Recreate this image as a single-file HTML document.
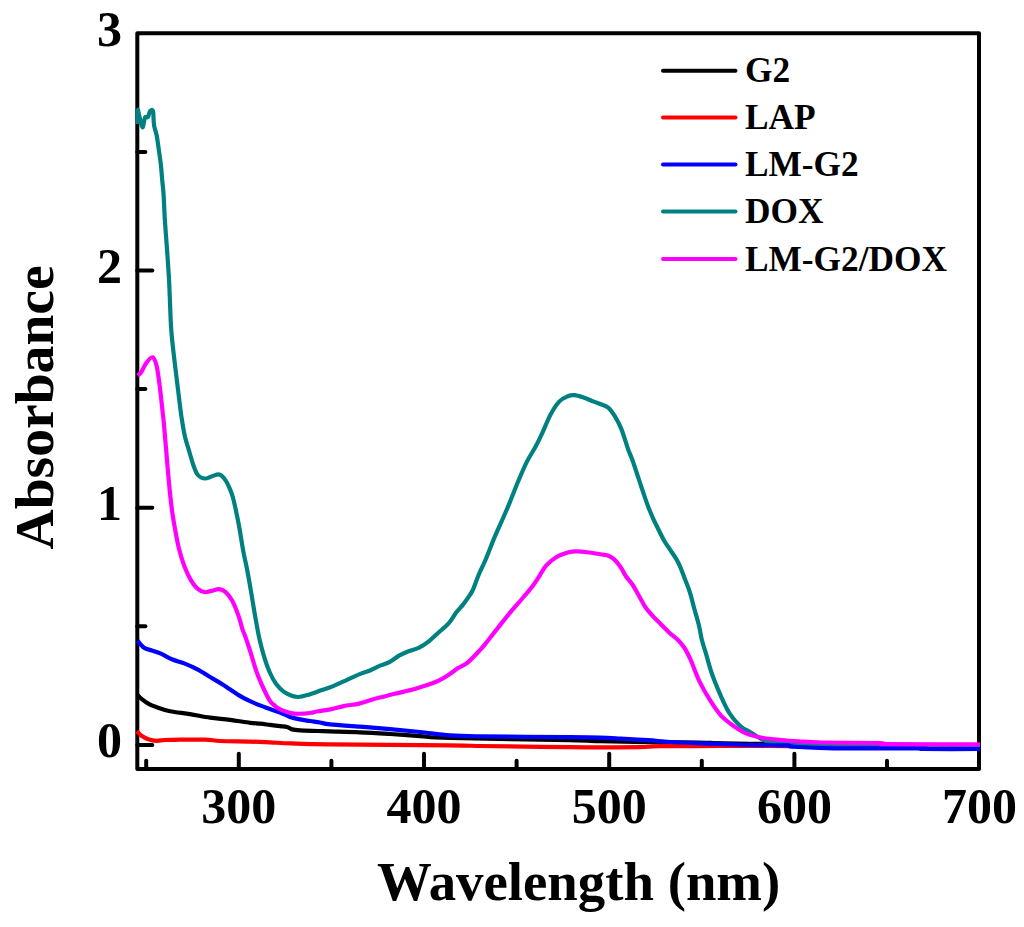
<!DOCTYPE html>
<html><head><meta charset="utf-8"><style>
html,body{margin:0;padding:0;background:#fff;}
body{width:1024px;height:927px;overflow:hidden;}
svg{display:block;}
text{font-family:"Liberation Serif",serif;font-weight:bold;fill:#000;}
</style></head><body>
<svg width="1024" height="927" viewBox="0 0 1024 927">
<rect x="0" y="0" width="1024" height="927" fill="#fff"/>
<g stroke="#000" stroke-width="4" stroke-linecap="round" fill="none">
<rect x="137.3" y="33.3" width="841.7" height="735.7" stroke-linejoin="round"/>
<line x1="146.2" y1="769.0" x2="146.2" y2="760.7"/><line x1="238.8" y1="769.0" x2="238.8" y2="753.7"/><line x1="331.4" y1="769.0" x2="331.4" y2="760.7"/><line x1="424.0" y1="769.0" x2="424.0" y2="753.7"/><line x1="516.6" y1="769.0" x2="516.6" y2="760.7"/><line x1="609.2" y1="769.0" x2="609.2" y2="753.7"/><line x1="701.8" y1="769.0" x2="701.8" y2="760.7"/><line x1="794.4" y1="769.0" x2="794.4" y2="753.7"/><line x1="887.0" y1="769.0" x2="887.0" y2="760.7"/><line x1="137.3" y1="744.9" x2="152.3" y2="744.9"/><line x1="137.3" y1="626.3" x2="145.4" y2="626.3"/><line x1="137.3" y1="507.7" x2="152.3" y2="507.7"/><line x1="137.3" y1="389.1" x2="145.4" y2="389.1"/><line x1="137.3" y1="270.5" x2="152.3" y2="270.5"/><line x1="137.3" y1="151.9" x2="145.4" y2="151.9"/>
</g>
<g fill="none" stroke-width="4.2" stroke-linejoin="round" stroke-linecap="butt">
<path stroke="#000000" d="M137.50,695.00 C138.17,695.65 139.57,697.37 141.50,698.90 C143.43,700.43 146.58,702.82 149.10,704.20 C151.62,705.58 153.12,706.02 156.60,707.20 C160.08,708.38 164.43,710.15 170.00,711.30 C175.57,712.45 183.33,713.05 190.00,714.10 C196.67,715.15 203.33,716.65 210.00,717.60 C216.67,718.55 223.33,718.93 230.00,719.80 C236.67,720.67 245.00,722.15 250.00,722.80 C255.00,723.45 256.67,723.35 260.00,723.70 C263.33,724.05 266.67,724.50 270.00,724.90 C273.33,725.30 277.17,725.77 280.00,726.10 C282.83,726.43 285.00,726.35 287.00,726.90 C289.00,727.45 289.83,728.82 292.00,729.40 C294.17,729.98 295.67,730.13 300.00,730.40 C304.33,730.67 313.00,730.83 318.00,731.00 C323.00,731.17 323.00,731.18 330.00,731.40 C337.00,731.62 350.00,731.87 360.00,732.30 C370.00,732.73 380.00,733.37 390.00,734.00 C400.00,734.63 410.00,735.43 420.00,736.10 C430.00,736.77 425.00,737.32 450.00,738.00 C475.00,738.68 545.00,739.67 570.00,740.20 C595.00,740.73 587.00,740.87 600.00,741.20 C613.00,741.53 631.33,741.97 648.00,742.20 C664.67,742.43 683.00,742.33 700.00,742.60 C717.00,742.87 703.33,743.32 750.00,743.80 C796.67,744.28 941.67,745.22 980.00,745.50"/>
<path stroke="#ff0000" d="M137.00,731.00 C137.75,731.80 139.48,734.37 141.50,735.80 C143.52,737.23 146.58,738.77 149.10,739.60 C151.62,740.43 154.08,740.73 156.60,740.80 C159.12,740.87 161.30,740.17 164.20,740.00 C167.10,739.83 167.20,739.87 174.00,739.80 C180.80,739.73 197.33,739.40 205.00,739.60 C212.67,739.80 212.50,740.67 220.00,741.00 C227.50,741.33 241.67,741.37 250.00,741.60 C258.33,741.83 263.17,742.10 270.00,742.40 C276.83,742.70 281.00,743.08 291.00,743.40 C301.00,743.72 303.50,743.98 330.00,744.30 C356.50,744.62 425.00,745.02 450.00,745.30 C475.00,745.58 467.50,745.78 480.00,746.00 C492.50,746.22 510.00,746.40 525.00,746.60 C540.00,746.80 557.50,747.08 570.00,747.20 C582.50,747.32 588.33,747.30 600.00,747.30 C611.67,747.30 630.00,747.38 640.00,747.20 C650.00,747.02 646.67,746.40 660.00,746.20 C673.33,746.00 703.33,746.03 720.00,746.00 C736.67,745.97 716.67,745.75 760.00,746.00 C803.33,746.25 943.33,747.25 980.00,747.50"/>
<path stroke="#008080" d="M137.50,124.00 C137.55,121.67 137.47,111.17 137.80,110.00 C138.13,108.83 138.72,114.08 139.50,117.00 C140.28,119.92 141.58,127.42 142.50,127.50 C143.42,127.58 144.08,119.25 145.00,117.50 C145.92,115.75 147.17,118.05 148.00,117.00 C148.83,115.95 149.17,112.17 150.00,111.20 C150.83,110.23 152.33,108.90 153.00,111.20 C153.67,113.50 153.40,121.03 154.00,125.00 C154.60,128.97 155.82,131.00 156.60,135.00 C157.38,139.00 157.98,144.00 158.70,149.00 C159.42,154.00 160.32,159.83 160.90,165.00 C161.48,170.17 161.75,175.00 162.20,180.00 C162.65,185.00 163.17,188.50 163.60,195.00 C164.03,201.50 164.28,210.67 164.80,219.00 C165.32,227.33 166.02,235.33 166.70,245.00 C167.38,254.67 168.37,267.83 168.90,277.00 C169.43,286.17 169.52,291.33 169.90,300.00 C170.28,308.67 170.55,319.83 171.20,329.00 C171.85,338.17 172.72,345.33 173.80,355.00 C174.88,364.67 176.58,377.83 177.70,387.00 C178.82,396.17 179.82,404.67 180.50,410.00 C181.18,415.33 181.08,414.67 181.80,419.00 C182.52,423.33 183.53,430.50 184.80,436.00 C186.07,441.50 187.98,447.17 189.40,452.00 C190.82,456.83 192.02,461.33 193.30,465.00 C194.58,468.67 195.82,471.92 197.10,474.00 C198.38,476.08 199.60,476.75 201.00,477.50 C202.40,478.25 204.17,478.50 205.50,478.50 C206.83,478.50 207.80,477.92 209.00,477.50 C210.20,477.08 211.12,476.52 212.70,476.00 C214.28,475.48 216.95,474.40 218.50,474.40 C220.05,474.40 220.75,474.90 222.00,476.00 C223.25,477.10 224.75,479.00 226.00,481.00 C227.25,483.00 228.42,485.50 229.50,488.00 C230.58,490.50 231.50,492.58 232.50,496.00 C233.50,499.42 234.35,503.17 235.50,508.50 C236.65,513.83 238.10,520.87 239.40,528.00 C240.70,535.13 242.00,544.30 243.30,551.30 C244.60,558.30 245.90,563.22 247.20,570.00 C248.50,576.78 249.80,584.45 251.10,592.00 C252.40,599.55 253.62,607.50 255.00,615.30 C256.38,623.10 257.80,631.63 259.40,638.80 C261.00,645.97 262.87,652.68 264.60,658.30 C266.33,663.92 267.87,668.20 269.80,672.50 C271.73,676.80 273.83,680.87 276.20,684.10 C278.57,687.33 281.40,689.95 284.00,691.90 C286.60,693.85 289.42,694.95 291.80,695.80 C294.18,696.65 295.72,697.12 298.30,697.00 C300.88,696.88 303.63,696.17 307.30,695.10 C310.97,694.03 315.98,692.10 320.30,690.60 C324.62,689.10 328.90,687.82 333.20,686.10 C337.50,684.38 341.78,682.25 346.10,680.30 C350.42,678.35 355.12,676.03 359.10,674.40 C363.08,672.77 366.52,671.95 370.00,670.50 C373.48,669.05 376.70,667.15 380.00,665.70 C383.30,664.25 386.55,663.52 389.80,661.80 C393.05,660.08 396.25,657.20 399.50,655.40 C402.75,653.60 406.03,652.30 409.30,651.00 C412.57,649.70 415.85,649.22 419.10,647.60 C422.35,645.98 425.55,643.82 428.80,641.30 C432.05,638.78 435.33,635.43 438.60,632.50 C441.87,629.57 445.47,627.03 448.40,623.70 C451.33,620.37 453.77,615.68 456.20,612.50 C458.63,609.32 461.05,607.05 463.00,604.60 C464.95,602.15 466.27,600.23 467.90,597.80 C469.53,595.37 470.95,593.97 472.80,590.00 C474.65,586.03 476.82,579.17 479.00,574.00 C481.18,568.83 483.32,565.10 485.90,559.00 C488.48,552.90 491.63,544.23 494.50,537.40 C497.37,530.57 500.58,523.75 503.10,518.00 C505.62,512.25 507.08,509.02 509.60,502.90 C512.12,496.78 515.33,488.13 518.20,481.30 C521.07,474.47 523.92,467.65 526.80,461.90 C529.68,456.15 532.98,451.47 535.50,446.80 C538.02,442.13 539.38,439.28 541.90,433.90 C544.42,428.52 547.72,419.88 550.60,414.50 C553.48,409.12 556.33,404.65 559.20,401.60 C562.07,398.55 565.28,397.28 567.80,396.20 C570.32,395.12 571.78,394.92 574.30,395.10 C576.82,395.28 579.67,396.22 582.90,397.30 C586.13,398.38 590.48,400.35 593.70,401.60 C596.92,402.85 599.72,403.73 602.20,404.80 C604.68,405.87 606.45,406.02 608.60,408.00 C610.75,409.98 612.93,413.10 615.10,416.70 C617.27,420.30 619.45,424.22 621.60,429.60 C623.75,434.98 626.22,443.97 628.00,449.00 C629.78,454.03 630.50,454.77 632.30,459.80 C634.10,464.83 636.63,472.73 638.80,479.20 C640.97,485.67 643.58,493.62 645.30,498.60 C647.02,503.58 647.72,505.60 649.10,509.10 C650.48,512.60 652.10,516.33 653.60,519.60 C655.10,522.87 656.33,525.17 658.10,528.70 C659.87,532.23 662.18,537.28 664.20,540.80 C666.22,544.32 668.20,546.78 670.20,549.80 C672.20,552.82 674.57,556.13 676.20,558.90 C677.83,561.67 678.48,562.88 680.00,566.40 C681.52,569.92 683.67,575.72 685.30,580.00 C686.93,584.28 688.30,587.32 689.80,592.10 C691.30,596.88 692.78,603.17 694.30,608.70 C695.82,614.23 697.63,620.08 698.90,625.30 C700.17,630.52 700.77,635.43 701.90,640.00 C703.03,644.57 704.00,646.98 705.70,652.70 C707.40,658.42 709.58,667.12 712.10,674.30 C714.62,681.48 717.92,689.33 720.80,695.80 C723.68,702.27 726.17,708.07 729.40,713.10 C732.63,718.13 736.62,722.77 740.20,726.00 C743.78,729.23 747.03,730.17 750.90,732.50 C754.77,734.83 759.35,738.33 763.40,740.00 C767.45,741.67 769.10,741.87 775.20,742.50 C781.30,743.13 790.87,743.33 800.00,743.80 C809.13,744.27 820.00,745.00 830.00,745.30 C840.00,745.60 835.00,745.45 860.00,745.60 C885.00,745.75 960.00,746.10 980.00,746.20"/>
<path stroke="#0000ff" d="M137.50,640.70 C138.60,641.88 141.72,646.18 144.10,647.80 C146.48,649.42 149.00,649.42 151.80,650.40 C154.60,651.38 157.45,652.18 160.90,653.70 C164.35,655.22 168.62,657.88 172.50,659.50 C176.38,661.12 179.88,661.68 184.20,663.40 C188.52,665.12 194.30,667.65 198.40,669.80 C202.50,671.95 204.70,673.82 208.80,676.30 C212.90,678.78 218.03,681.57 223.00,684.70 C227.97,687.83 234.10,692.35 238.60,695.10 C243.10,697.85 245.60,699.18 250.00,701.20 C254.40,703.22 260.83,705.60 265.00,707.20 C269.17,708.80 271.67,709.57 275.00,710.80 C278.33,712.03 282.50,713.57 285.00,714.60 C287.50,715.63 287.50,716.20 290.00,717.00 C292.50,717.80 296.67,718.73 300.00,719.40 C303.33,720.07 306.67,720.48 310.00,721.00 C313.33,721.52 316.67,721.93 320.00,722.50 C323.33,723.07 323.33,723.70 330.00,724.40 C336.67,725.10 350.00,725.92 360.00,726.70 C370.00,727.48 380.00,728.22 390.00,729.10 C400.00,729.98 410.00,730.97 420.00,732.00 C430.00,733.03 440.00,734.58 450.00,735.30 C460.00,736.02 460.00,735.98 480.00,736.30 C500.00,736.62 550.00,736.97 570.00,737.20 C590.00,737.43 591.67,737.47 600.00,737.70 C608.33,737.93 612.00,738.18 620.00,738.60 C628.00,739.02 639.67,739.63 648.00,740.20 C656.33,740.77 661.33,741.48 670.00,742.00 C678.67,742.52 686.67,742.80 700.00,743.30 C713.33,743.80 736.67,744.67 750.00,745.00 C763.33,745.33 773.50,745.23 780.00,745.30 C786.50,745.37 786.88,745.17 789.00,745.40 C791.12,745.63 785.25,746.22 792.70,746.70 C800.15,747.18 812.15,748.02 833.70,748.30 C855.25,748.58 907.12,748.28 922.00,748.40 C936.88,748.52 913.33,748.90 923.00,749.00 C932.67,749.10 970.50,749.00 980.00,749.00"/>
<path stroke="#ff00ff" d="M137.60,375.50 C138.13,375.05 139.30,374.97 140.80,372.80 C142.30,370.63 144.65,365.08 146.60,362.50 C148.55,359.92 150.87,356.88 152.50,357.30 C154.13,357.72 155.32,361.12 156.40,365.00 C157.48,368.88 158.25,375.43 159.00,380.60 C159.75,385.77 160.33,391.10 160.90,396.00 C161.47,400.90 161.87,405.00 162.40,410.00 C162.93,415.00 163.27,416.88 164.10,426.00 C164.93,435.12 166.42,453.50 167.40,464.70 C168.38,475.90 169.15,485.00 170.00,493.20 C170.85,501.40 171.65,507.87 172.50,513.90 C173.35,519.93 174.02,523.58 175.10,529.40 C176.18,535.22 177.48,542.75 179.00,548.80 C180.52,554.85 182.25,560.52 184.20,565.70 C186.15,570.88 188.55,576.13 190.70,579.90 C192.85,583.67 194.73,586.25 197.10,588.30 C199.47,590.35 202.52,591.77 204.90,592.20 C207.28,592.63 209.03,591.40 211.40,590.90 C213.77,590.40 216.73,588.98 219.10,589.20 C221.47,589.42 223.43,590.30 225.60,592.20 C227.77,594.10 229.93,596.62 232.10,600.60 C234.27,604.58 236.88,611.35 238.60,616.10 C240.32,620.85 241.30,625.75 242.40,629.10 C243.50,632.45 243.87,632.42 245.20,636.20 C246.53,639.98 248.47,645.75 250.40,651.80 C252.33,657.85 254.65,666.47 256.80,672.50 C258.95,678.53 261.12,683.27 263.30,688.00 C265.48,692.73 267.98,697.95 269.90,700.90 C271.82,703.85 273.18,704.32 274.80,705.70 C276.42,707.08 277.57,708.13 279.60,709.20 C281.63,710.27 284.55,711.37 287.00,712.10 C289.45,712.83 291.45,713.35 294.30,713.60 C297.15,713.85 301.25,713.73 304.10,713.60 C306.95,713.47 309.13,713.18 311.40,712.80 C313.67,712.42 314.50,711.87 317.70,711.30 C320.90,710.73 326.28,710.27 330.60,709.40 C334.92,708.53 338.85,707.07 343.60,706.10 C348.35,705.13 354.17,704.75 359.10,703.60 C364.03,702.45 367.25,700.83 373.20,699.20 C379.15,697.57 387.62,695.60 394.80,693.80 C401.98,692.00 409.22,690.50 416.30,688.40 C423.38,686.30 431.95,683.43 437.30,681.20 C442.65,678.97 444.93,677.18 448.40,675.00 C451.87,672.82 454.85,670.22 458.10,668.10 C461.35,665.98 464.25,665.32 467.90,662.30 C471.55,659.28 477.05,653.12 480.00,650.00 C482.95,646.88 482.65,647.25 485.60,643.60 C488.55,639.95 493.38,633.57 497.70,628.10 C502.02,622.63 507.18,615.98 511.50,610.80 C515.82,605.62 520.13,601.03 523.60,597.00 C527.07,592.97 529.70,590.05 532.30,586.60 C534.90,583.15 536.87,579.83 539.20,576.30 C541.53,572.77 543.33,568.65 546.30,565.40 C549.27,562.15 553.42,558.95 557.00,556.80 C560.58,554.65 564.57,553.40 567.80,552.50 C571.03,551.60 572.80,551.40 576.40,551.40 C580.00,551.40 585.47,552.03 589.40,552.50 C593.33,552.97 596.93,553.70 600.00,554.20 C603.07,554.70 605.43,554.63 607.80,555.50 C610.17,556.37 612.05,557.45 614.20,559.40 C616.35,561.35 618.75,564.38 620.70,567.20 C622.65,570.02 623.95,573.42 625.90,576.30 C627.85,579.18 630.23,581.27 632.40,584.50 C634.57,587.73 636.75,591.95 638.90,595.70 C641.05,599.45 642.93,603.55 645.30,607.00 C647.67,610.45 650.50,613.53 653.10,616.40 C655.70,619.27 658.10,621.38 660.90,624.20 C663.70,627.02 667.10,630.72 669.90,633.30 C672.70,635.88 675.32,637.33 677.70,639.70 C680.08,642.07 682.03,644.12 684.20,647.50 C686.37,650.88 688.20,654.45 690.70,660.00 C693.20,665.55 695.98,674.10 699.20,680.80 C702.42,687.50 706.40,694.45 710.00,700.20 C713.60,705.95 716.85,711.00 720.80,715.30 C724.75,719.60 729.40,722.95 733.70,726.00 C738.00,729.05 741.65,731.60 746.60,733.60 C751.55,735.60 757.67,736.93 763.40,738.00 C769.13,739.07 775.13,739.45 781.00,740.00 C786.87,740.55 791.77,740.88 798.60,741.30 C805.43,741.72 808.43,742.18 822.00,742.50 C835.57,742.82 869.33,742.92 880.00,743.20 C890.67,743.48 869.33,744.00 886.00,744.20 C902.67,744.40 964.33,744.37 980.00,744.40"/>
</g>
<g font-size="50"><text x="238.8" y="822.5" text-anchor="middle">300</text><text x="424.0" y="822.5" text-anchor="middle">400</text><text x="609.2" y="822.5" text-anchor="middle">500</text><text x="794.4" y="822.5" text-anchor="middle">600</text><text x="979.6" y="822.5" text-anchor="middle">700</text><text x="122" y="757.1" text-anchor="end">0</text><text x="122" y="519.9" text-anchor="end">1</text><text x="122" y="282.7" text-anchor="end">2</text><text x="122" y="45.5" text-anchor="end">3</text></g>
<text x="578.6" y="900" font-size="54.8" text-anchor="middle">Wavelength (nm)</text>
<text transform="translate(52.5,407.4) rotate(-90)" font-size="55.6" text-anchor="middle">Absorbance</text>
<g font-size="35.3"><line x1="663" y1="70.7" x2="735.5" y2="70.7" stroke="#000000" stroke-width="4" stroke-linecap="round"/><text x="745" y="82.4">G2</text><line x1="663" y1="117.4" x2="735.5" y2="117.4" stroke="#ff0000" stroke-width="4" stroke-linecap="round"/><text x="745" y="129.1">LAP</text><line x1="663" y1="164.4" x2="735.5" y2="164.4" stroke="#0000ff" stroke-width="4" stroke-linecap="round"/><text x="745" y="176.1">LM-G2</text><line x1="663" y1="211.6" x2="735.5" y2="211.6" stroke="#008080" stroke-width="4" stroke-linecap="round"/><text x="745" y="223.3">DOX</text><line x1="663" y1="258.9" x2="735.5" y2="258.9" stroke="#ff00ff" stroke-width="4" stroke-linecap="round"/><text x="745" y="270.6">LM-G2/DOX</text></g>
</svg>
</body></html>
